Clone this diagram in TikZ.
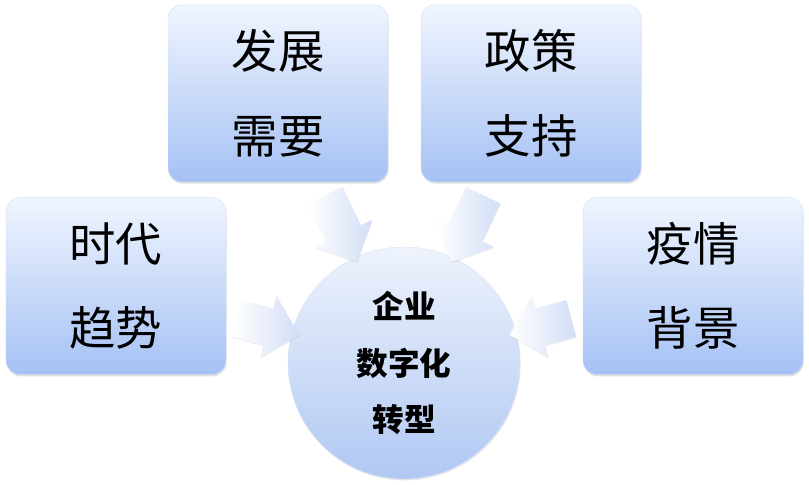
\documentclass[tikz,border=0pt]{standalone}
\usepackage{fontspec}
\setmainfont{Noto Sans CJK SC}
\usetikzlibrary{shapes.arrows,shadows}
\definecolor{boxtop}{HTML}{F0F5FE}
\definecolor{boxbot}{HTML}{A5C1F4}
\definecolor{arrtip}{HTML}{D2DEF6}
\definecolor{circtop}{HTML}{EEF3FC}
\definecolor{circbot}{HTML}{B0C8F3}

\begin{document}
\begin{tikzpicture}[
  factor/.style={rectangle, rounded corners=10pt, minimum width=5.5cm, minimum height=4.43cm,
    top color=boxtop, bottom color=boxbot, draw=boxbot!50!white, line width=0.3pt,
    drop shadow={opacity=0.25, shadow xshift=0.4pt, shadow yshift=-1.2pt},
    align=center, font=\fontsize{33}{60}\selectfont},
  core/.style={circle, minimum size=5.8cm, top color=circtop, bottom color=circbot,
    draw=circbot!50!white, line width=0.3pt,
    drop shadow={opacity=0.2, shadow xshift=0.4pt, shadow yshift=-1pt},
    align=center, font=\bfseries\fontsize{22.5}{40}\selectfont},
  push/.style={single arrow, draw=none, inner xsep=0pt, inner ysep=0.47cm,
    single arrow head extend=0.32cm, left color=white, right color=arrtip,
    drop shadow={opacity=0.15, shadow xshift=0.3pt, shadow yshift=-0.8pt},
    midway, sloped, allow upside down}
]
  \useasboundingbox (0,0) rectangle (20.225,12.125);

  \node[factor] (nDev) at (6.95,9.79) {发展\\需要};
  \node[factor] (nPol) at (13.275,9.79) {政策\\支持};
  \node[factor] (nTrend) at (2.9,4.975) {时代\\趋势};
  \node[factor] (nEpi) at (17.325,4.975) {疫情\\背景};
  \node[core] (nCore) at (10.1,3.05) {企业\\数字化\\转型};

  % block arrows into the core
  \path (nDev) -- (nCore) node[push, minimum height=1.85cm] {};
  \path (nPol) -- (nCore) node[push, minimum height=1.85cm] {};
  \path (nTrend) -- (nCore) node[push, minimum height=1.6cm] {};
  \path (nEpi) -- (nCore) node[push, minimum height=1.6cm] {};
\end{tikzpicture}
\end{document}
